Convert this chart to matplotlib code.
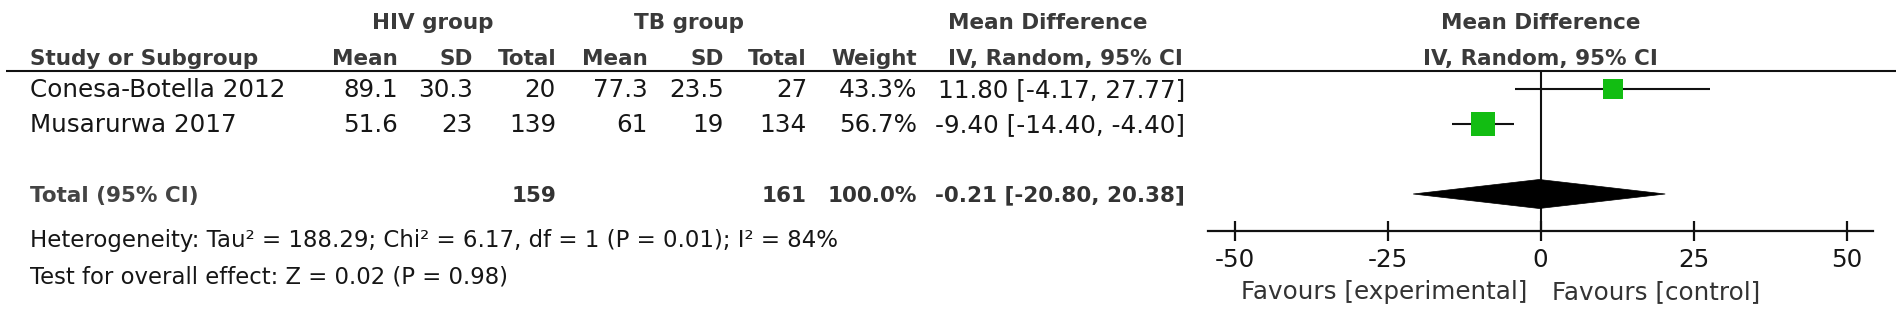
import matplotlib
matplotlib.use("Agg")
import matplotlib.pyplot as plt
from matplotlib.patches import Polygon

# ---------------- data ----------------
studies = ["Conesa-Botella 2012", "Musarurwa 2017"]
hiv_mean = [89.1, 51.6]
hiv_sd = [30.3, 23]
hiv_n = [20, 139]
tb_mean = [77.3, 61]
tb_sd = [23.5, 19]
tb_n = [27, 134]
weights = [43.3, 56.7]
md = [11.80, -9.40]
ci_lo = [-4.17, -14.40]
ci_hi = [27.77, -4.40]

total_hiv_n = 159
total_tb_n = 161
total_weight = 100.0
pooled_md = -0.21
pooled_lo = -20.80
pooled_hi = 20.38

tau2, chi2, df_het, p_het, i2 = 188.29, 6.17, 1, 0.01, 84
z_val, p_z = 0.02, 0.98

xticks = [-50, -25, 0, 25, 50]
xtick_labels = ["-50", "-25", "0", "25", "50"]
left_label = "Favours [experimental]"
right_label = "Favours [control]"

# ---------------- style / layout ----------------
plt.rcParams["font.family"] = ["DejaVu Sans"]
plt.rcParams["axes.unicode_minus"] = False

W, H = 1902, 315
fig = plt.figure(figsize=(W / 100, H / 100), dpi=100)
fig.patch.set_facecolor("white")
renderer = fig.canvas.get_renderer()


def fit(text, target, weight="normal"):
    tt = fig.text(0, 0, text, fontsize=10, fontweight=weight)
    w = tt.get_window_extent(renderer).width
    tt.remove()
    return 10 * target / w


het_text = (f"Heterogeneity: Tau\u00b2 = {tau2:.2f}; Chi\u00b2 = {chi2:.2f}, "
            f"df = {df_het} (P = {p_het:.2f}); I\u00b2 = {i2}%")
test_text = f"Test for overall effect: Z = {z_val:.2f} (P = {p_z:.2f})"

FS = fit("Conesa-Botella 2012", 255)
FSB = fit("Study or Subgroup", 228, "bold")
FS_HET = fit(het_text, 805)
FS_TEST = fit(test_text, 478)

TXT = "#161616"
HDR = "#3a3a3a"
GREEN = "#12bd12"
LINE = "#111111"


def base(center, fs):
    # baseline from visual cap centre (y grows downward)
    return center + 0.5 * 0.729 * fs * 100 / 72


# vertical positions (pixels from top)
Y_GROUP = 21.5
Y_HEAD = 57
Y_LINE = 70.5
ROW_Y = [88.5, 123.5]
Y_TOTAL = 194
Y_HET = 239
Y_TEST = 275
AXIS_Y = 231
FAV_Y = 290

# column right edges (pixels)
X_STUDY = 30
COLS = {"hm": 398, "hs": 473, "hn": 556, "tm": 648, "ts": 724, "tn": 807,
        "w": 917, "ci": 1185}
X_MDHEAD = 948
X_HIV_GROUP = 433
X_TB_GROUP = 689

ax = fig.add_axes([0, 0, 1, 1])
ax.set_xlim(0, W)
ax.set_ylim(H, 0)
ax.axis("off")


def t(x, y, s, ha="right", bold=False, color=None, fs=None):
    if fs is None:
        fs = FSB if bold else FS
    ax.text(x, base(y, fs), s, ha=ha, va="baseline", fontsize=fs,
            fontweight="bold" if bold else "normal",
            color=color or (HDR if bold else TXT))


# headers
t(X_HIV_GROUP, Y_GROUP, "HIV group", ha="center", bold=True)
t(X_TB_GROUP, Y_GROUP, "TB group", ha="center", bold=True)
t(X_MDHEAD, Y_GROUP, "Mean Difference", ha="left", bold=True)
t(X_STUDY, Y_HEAD, "Study or Subgroup", ha="left", bold=True)
for key, lab in [("hm", "Mean"), ("hs", "SD"), ("hn", "Total"),
                 ("tm", "Mean"), ("ts", "SD"), ("tn", "Total"), ("w", "Weight")]:
    t(COLS[key], Y_HEAD, lab, bold=True)
t(X_MDHEAD, Y_HEAD, "IV, Random, 95% CI", ha="left", bold=True)
ax.plot([6, 1896], [Y_LINE, Y_LINE], color=LINE, lw=1.5, solid_capstyle="butt")

# study rows
for i, name in enumerate(studies):
    y = ROW_Y[i]
    t(X_STUDY, y, name, ha="left")
    t(COLS["hm"], y, f"{hiv_mean[i]:g}")
    t(COLS["hs"], y, f"{hiv_sd[i]:g}")
    t(COLS["hn"], y, f"{hiv_n[i]}")
    t(COLS["tm"], y, f"{tb_mean[i]:g}")
    t(COLS["ts"], y, f"{tb_sd[i]:g}")
    t(COLS["tn"], y, f"{tb_n[i]}")
    t(COLS["w"], y, f"{weights[i]:.1f}%")
    t(COLS["ci"], y, f"{md[i]:.2f} [{ci_lo[i]:.2f}, {ci_hi[i]:.2f}]")

# total row
t(X_STUDY, Y_TOTAL, "Total (95% CI)", ha="left", bold=True, color="#444444")
t(COLS["hn"], Y_TOTAL, f"{total_hiv_n}", bold=True, color="#333333")
t(COLS["tn"], Y_TOTAL, f"{total_tb_n}", bold=True, color="#333333")
t(COLS["w"], Y_TOTAL, f"{total_weight:.1f}%", bold=True, color="#333333")
t(COLS["ci"], Y_TOTAL, f"{pooled_md:.2f} [{pooled_lo:.2f}, {pooled_hi:.2f}]",
  bold=True, color="#333333")

t(X_STUDY, Y_HET, het_text, ha="left", fs=FS_HET)
t(X_STUDY, Y_TEST, test_text, ha="left", fs=FS_TEST)

# ---------------- forest axes ----------------
X0, S = 1540.5, 6.12          # pixel of zero, pixels per unit
xmin, xmax = -55, 55
axf = fig.add_axes([(X0 + S * xmin) / W, 0, S * (xmax - xmin) / W, 1])
axf.set_xlim(xmin, xmax)
axf.set_ylim(H, 0)
axf.patch.set_visible(False)
for s in ["left", "right", "top"]:
    axf.spines[s].set_visible(False)
axf.yaxis.set_visible(False)
axf.spines["bottom"].set_position(("data", AXIS_Y))
axf.spines["bottom"].set_bounds(-54.25, 54.35)
axf.spines["bottom"].set_linewidth(1.6)
axf.spines["bottom"].set_color(LINE)
axf.set_xticks(xticks)
axf.set_xticklabels(xtick_labels)
axf.tick_params(axis="x", direction="inout", length=15, width=1.6,
                labelsize=FS, pad=4.5, colors=LINE, labelcolor=TXT)

axf.text(0, base(Y_GROUP, FSB), "Mean Difference", ha="center", va="baseline",
         fontsize=FSB, fontweight="bold", color=HDR)
axf.text(0, base(Y_HEAD, FSB), "IV, Random, 95% CI", ha="center", va="baseline",
         fontsize=FSB, fontweight="bold", color=HDR)

axf.vlines(0, Y_LINE, AXIS_Y, color=LINE, lw=1.5)

wmax = max(weights)
for i in range(len(studies)):
    y = ROW_Y[i]
    axf.hlines(y, ci_lo[i], ci_hi[i], color=LINE, lw=1.5)
    side_px = 24 * (weights[i] / wmax) ** 0.75
    axf.plot(md[i], y, marker="s", ms=side_px * 72 / 100, color=GREEN,
             mec=GREEN, mew=0, linestyle="none", zorder=3)

dh = 14.5
axf.add_patch(Polygon([(pooled_lo, Y_TOTAL), (pooled_md, Y_TOTAL - dh),
                       (pooled_hi, Y_TOTAL), (pooled_md, Y_TOTAL + dh)],
                      closed=True, facecolor="black", edgecolor="black", lw=0.5,
                      zorder=3))

axf.text(-2.1, base(FAV_Y, FS), left_label, ha="right", va="baseline",
         fontsize=FS, color="#333333")
axf.text(1.9, base(FAV_Y, FS), right_label, ha="left", va="baseline",
         fontsize=FS, color="#333333")

fig.savefig("out.png", dpi=100, facecolor="white")
